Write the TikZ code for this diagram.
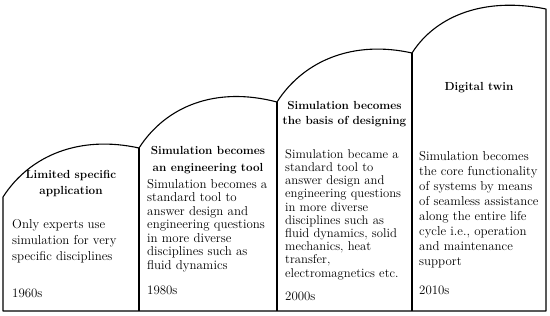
\documentclass[tikz,border=0pt]{standalone}
\begin{document}
\begin{tikzpicture}[x=1pt,y=-1pt,
  outline/.style={line width=1.1pt, line join=round},
  title/.style={font=\fontsize{11.7}{16}\selectfont\bfseries, align=center, inner sep=0pt},
  body/.style={font=\fontsize{12.9}{14}\selectfont, align=left, anchor=west, inner sep=0pt},
  era/.style={font=\fontsize{12.9}{14}\selectfont, anchor=west, inner sep=0pt}]
\useasboundingbox (0,0) rectangle (550,316);
\coordinate (b0) at (3,311);
\coordinate (t0) at (3,197);
\coordinate (b1) at (139,311);
\coordinate (t1) at (139,148);
\coordinate (b2) at (277,311);
\coordinate (t2) at (277,102);
\coordinate (b3) at (412,311);
\coordinate (t3) at (412,53);
\coordinate (b4) at (546,311);
\coordinate (t4) at (546,9);
\draw[outline] (t0) .. controls (30,155) and (80,135) .. (t1)
  .. controls (166,106) and (216,86) .. (t2)
  .. controls (304,60) and (354,40) .. (t3)
  .. controls (437,14) and (487,-3) .. (t4)
  -- (b4) -- (b0) -- cycle;
\draw[outline] (t1) -- (b1);
\draw[outline] (t2) -- (b2);
\draw[outline] (t3) -- (b3);
% column 1
\node[title] (h1) at (71,184) {Limited specific\\application};
\node[body, font=\fontsize{12.9}{16}\selectfont] (d1) at (12,241) {Only experts use\\simulation for very\\specific disciplines};
\node[era] (e1) at (12,293) {1960s};
% column 2
\node[title, font=\fontsize{11.7}{17}\selectfont\bfseries] (h2) at (208,160.5) {Simulation becomes\\an engineering tool};
\node[body, font=\fontsize{12.9}{13.5}\selectfont] (d2) at (147,225.5) {Simulation becomes a\\standard tool to\\answer design and\\engineering questions\\in more diverse\\disciplines such as\\fluid dynamics};
\node[era] (e2) at (147,290) {1980s};
% column 3
\node[title, font=\fontsize{11.7}{15}\selectfont\bfseries] (h3) at (344.5,114.5) {Simulation becomes\\the basis of designing};
\node[body, font=\fontsize{12.7}{13.2}\selectfont] (d3) at (285,214.5) {Simulation became a\\standard tool to\\answer design and\\engineering questions\\in more diverse\\disciplines such as\\fluid dynamics, solid\\mechanics, heat\\transfer,\\electromagnetics etc.};
\node[era] (e3) at (285,296) {2000s};
% column 4
\node[title] (h4) at (479,88) {Digital twin};
\node[body, font=\fontsize{12.9}{15}\selectfont] (d4) at (419,209.5) {Simulation becomes\\the core functionality\\of systems by means\\of seamless assistance\\along the entire life\\cycle i.e., operation\\and maintenance\\support};
\node[era] (e4) at (419,290) {2010s};
\end{tikzpicture}
\end{document}
